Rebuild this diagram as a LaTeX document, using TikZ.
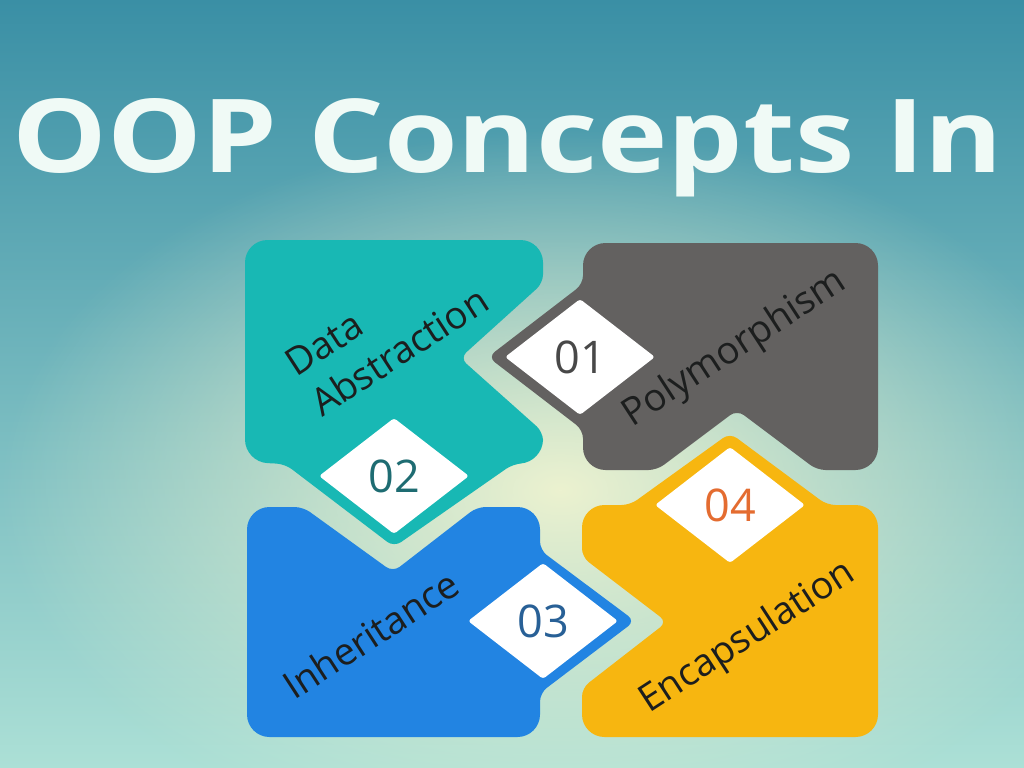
\documentclass[tikz,border=0pt]{standalone}
\usepackage{graphicx}
\usepackage{fontspec}
\setmainfont{Open Sans}
\usetikzlibrary{shapes.geometric,fadings}

\definecolor{bgtop}{RGB}{58,143,165}
\definecolor{bgmid}{RGB}{148,207,200}
\definecolor{bgbot}{RGB}{172,224,214}
\definecolor{glow}{RGB}{236,242,208}
\definecolor{titlecol}{RGB}{240,250,246}
\definecolor{tealtile}{RGB}{24,184,180}
\definecolor{graytile}{RGB}{99,97,96}
\definecolor{bluetile}{RGB}{34,132,226}
\definecolor{yellowtile}{RGB}{247,182,16}
\definecolor{labeltext}{RGB}{28,30,30}
\definecolor{numgray}{RGB}{72,72,72}
\definecolor{numteal}{RGB}{30,108,114}
\definecolor{numblue}{RGB}{40,96,150}
\definecolor{numorange}{RGB}{228,108,48}

\tikzfading[name=glowfade, inner color=transparent!0, outer color=transparent!100]

\begin{document}
\begin{tikzpicture}[
    x=0.025cm, y=-0.025cm,
    big/.style={rounded corners=16pt},
    small/.style={rounded corners=6pt},
    numtile/.style={diamond, fill=white, minimum width=3.75cm, minimum height=2.9cm,
      inner sep=0pt, rounded corners=2pt, font=\fontsize{32}{36}\selectfont},
    concept/.style={rotate=33, anchor=base west, inner sep=0pt, align=left,
      text=labeltext, font=\fontsize{27}{34}\selectfont}
]
\useasboundingbox (0,0) rectangle (1024,768);
% background
\shade[top color=bgtop, middle color=bgmid, bottom color=bgbot] (0,0) rectangle (1024,768);
\fill[glow, path fading=glowfade] (560,490) ellipse [x radius=560, y radius=360];

\node[anchor=base, inner sep=0pt, text=titlecol, font=\fontsize{72.6}{80}\selectfont\bfseries]
  (title) at (508,173) {\resizebox{24.75cm}{\height}{OOP Concepts In}};

% tiles
\fill[tealtile] (245,350) [big] -- (245,240) -- (543,240) [small] -- (543,283) -- (460,358)
  -- (543,432) [big] -- (543,462) [small] -- (513,464) -- (394,547) -- (285,464) [big] -- (245,462) -- cycle;
\fill[graytile] (878,350) [big] -- (878,470) [small] -- (817,470) -- (737,410) -- (657,470)
  [big] -- (583,470) [small] -- (583,430) -- (488,357) -- (583,284) [big] -- (583,243) -- (878,243) -- cycle;
\fill[bluetile] (247,620) [big] -- (247,507) [small] -- (303,507) -- (393,572) -- (477,507)
  [big] -- (540,507) [small] -- (540,550) -- (635,621) -- (540,693) [big] -- (540,737) -- (247,737) -- cycle;
\fill[yellowtile] (878,620) [big] -- (878,737) -- (582,737) [small] -- (582,688) -- (667,622)
  -- (582,557) [big] -- (582,505) [small] -- (630,505) -- (730,433) -- (827,505) [big] -- (878,505) -- cycle;

% numbers
\node[numtile, text=numgray] (n1) at (580,357) {01};
\node[numtile, text=numteal] (n2) at (394,476) {02};
\node[numtile, text=numblue] (n3) at (543,621) {03};
\node[numtile, text=numorange] (n4) at (730,505) {04};

% labels
\node[concept] (abstraction) at (322,418) {Data\\Abstraction};
\node[concept] (poly) at (632,428) {Polymorphism};
\node[concept] (inherit) at (294,701) {Inheritance};
\node[concept] (encap) at (649,714) {Encapsulation};
\end{tikzpicture}
\end{document}
